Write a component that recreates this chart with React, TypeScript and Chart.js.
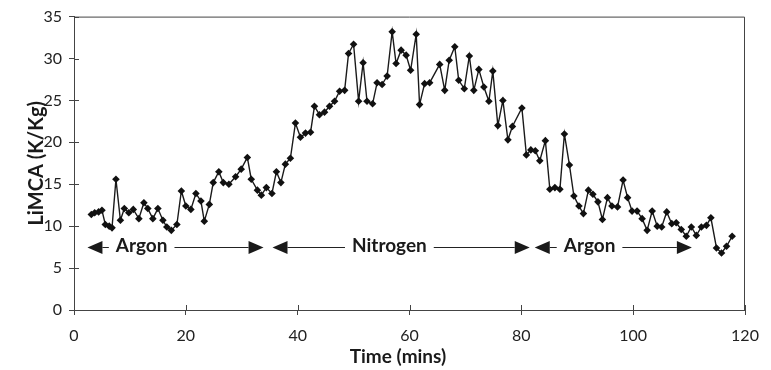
import { useEffect, useRef } from "react";
import { Chart, registerables } from "chart.js";

Chart.register(...registerables);

const timeMins = [
  3.1, 3.7, 4.4, 5.0, 5.6, 6.3, 6.8, 7.5, 8.3, 9.0, 9.8, 10.6, 11.6, 12.5, 13.2, 14.1, 15.0, 15.9, 16.6, 17.4,
  18.4, 19.2, 20.0, 20.9, 21.8, 22.7, 23.3, 24.2, 24.9, 25.9, 26.7, 27.7, 28.9, 29.9, 31.0, 31.7, 32.8, 33.5,
  34.4, 35.4, 36.2, 37.0, 37.8, 38.7, 39.6, 40.5, 41.4, 42.3, 43.0, 43.9, 44.8, 45.7, 46.6, 47.5, 48.4, 49.1,
  50.0, 50.9, 51.7, 52.4, 53.4, 54.2, 55.1, 56.0, 56.9, 57.6, 58.5, 59.4, 60.2, 61.2, 61.8, 62.7, 63.6, 65.4,
  66.3, 67.1, 68.1, 68.8, 69.8, 70.7, 71.5, 72.4, 73.3, 74.2, 74.9, 75.8, 76.7, 77.6, 78.4, 80.1, 80.9, 81.7,
  82.5, 83.3, 84.3, 85.1, 86.0, 86.9, 87.7, 88.6, 89.4, 90.3, 91.1, 92.0, 92.8, 93.7, 94.5, 95.4, 96.2, 97.2,
  98.2, 99.0, 99.8, 100.7, 101.6, 102.5, 103.4, 104.3, 105.1, 106.0, 106.9, 107.7, 108.6, 109.5, 110.4, 111.3,
  112.2, 113.1, 113.9, 114.9, 115.8, 116.7, 117.7,
];

const limcaValues = [
  11.4, 11.6, 11.7, 11.9, 10.2, 10.0, 9.8, 15.6, 10.7, 12.1, 11.6, 12.0, 10.9, 12.8, 12.1, 10.9, 12.1, 10.7, 9.9, 9.5,
  10.2, 14.2, 12.4, 12.0, 13.9, 13.0, 10.6, 12.6, 15.2, 16.5, 15.2, 15.0, 15.9, 16.8, 18.2, 15.6, 14.3, 13.7,
  14.6, 13.9, 16.5, 15.2, 17.4, 18.1, 22.3, 20.6, 21.1, 21.2, 24.3, 23.3, 23.6, 24.3, 24.9, 26.1, 26.2, 30.6,
  31.7, 24.9, 29.5, 24.9, 24.6, 27.1, 26.9, 27.9, 33.2, 29.4, 31.0, 30.4, 28.6, 32.9, 24.5, 27.0, 27.1, 29.3,
  26.2, 29.8, 31.4, 27.4, 26.4, 30.3, 26.2, 28.7, 26.6, 24.9, 28.5, 22.0, 25.0, 20.3, 21.9, 24.1, 18.5, 19.1,
  19.0, 17.8, 20.2, 14.4, 14.6, 14.4, 21.0, 17.3, 13.6, 12.4, 11.5, 14.3, 13.8, 12.9, 10.8, 13.4, 12.4, 12.3,
  15.5, 13.4, 11.8, 11.8, 10.9, 9.5, 11.8, 10.0, 9.9, 11.7, 10.3, 10.4, 9.6, 8.8, 9.9, 8.9,
  9.9, 10.1, 11.0, 7.4, 6.8, 7.6, 8.8,
];

const xTicks = [0, 20, 40, 60, 80, 100, 120];
const yTicks = [0, 5, 10, 15, 20, 25, 30, 35];

const gasLabels = ["Argon", "Nitrogen", "Argon"];
const gasStart = [2.4, 35.5, 82.4];
const gasEnd = [33.9, 81.5, 110.5];
const gasLabelAt = [12.1, 56.4, 92.2];
const arrowLevel = 7.5;

const INK = "#1a1a1a";

const overlayPlugin = {
  id: "overlay",
  afterDraw(chart: any) {
    const { ctx, chartArea } = chart;
    const { left, right, top, bottom } = chartArea;
    const xs = chart.scales.x;
    const ys = chart.scales.y;
    ctx.save();
    ctx.strokeStyle = "#444";
    ctx.lineWidth = 1;
    ctx.beginPath();
    ctx.moveTo(left + 0.5, top + 0.5);
    ctx.lineTo(right - 0.5, top + 0.5);
    ctx.lineTo(right - 0.5, bottom);
    ctx.stroke();
    ctx.beginPath();
    yTicks.forEach((v) => {
      const py = Math.round(ys.getPixelForValue(v)) + 0.5;
      ctx.moveTo(left, py);
      ctx.lineTo(left + 5, py);
    });
    xTicks.forEach((t) => {
      const px = Math.round(xs.getPixelForValue(t)) + 0.5;
      ctx.moveTo(px, bottom);
      ctx.lineTo(px, bottom - 5);
    });
    ctx.stroke();

    const ay = Math.round(ys.getPixelForValue(arrowLevel)) + 0.5;
    ctx.font = "bold 19px Lato";
    ctx.textAlign = "center";
    ctx.textBaseline = "middle";
    ctx.fillStyle = INK;
    ctx.strokeStyle = "#222";
    ctx.lineWidth = 1.2;
    const head = 15;
    const half = 6.5;
    gasLabels.forEach((label, i) => {
      const x0 = xs.getPixelForValue(gasStart[i]);
      const x1 = xs.getPixelForValue(gasEnd[i]);
      const xc = xs.getPixelForValue(gasLabelAt[i]);
      const w = ctx.measureText(label).width;
      ctx.fillText(label, xc, ay - 2);
      ctx.beginPath();
      ctx.moveTo(x0 + head, ay);
      ctx.lineTo(xc - w / 2 - 7, ay);
      ctx.moveTo(xc + w / 2 + 7, ay);
      ctx.lineTo(x1 - head, ay);
      ctx.stroke();
      ctx.beginPath();
      ctx.moveTo(x0, ay);
      ctx.lineTo(x0 + head, ay - half);
      ctx.lineTo(x0 + head, ay + half);
      ctx.closePath();
      ctx.fill();
      ctx.beginPath();
      ctx.moveTo(x1, ay);
      ctx.lineTo(x1 - head, ay - half);
      ctx.lineTo(x1 - head, ay + half);
      ctx.closePath();
      ctx.fill();
    });
    ctx.restore();
  },
};

export default function App() {
  const ref = useRef<HTMLCanvasElement | null>(null);
  useEffect(() => {
    document.body.style.margin = "0";
    if (!ref.current) return;
    const chart = new Chart(ref.current, {
      type: "line",
      data: {
        datasets: [
          {
            data: timeMins.map((t, i) => ({ x: t, y: limcaValues[i] })),
            borderColor: INK,
            borderWidth: 1.4,
            pointStyle: "rectRot",
            pointRadius: 3.8,
            pointBackgroundColor: "#111",
            pointBorderColor: "#111",
            pointBorderWidth: 0,
            tension: 0,
            fill: false,
          },
        ],
      },
      options: {
        animation: false,
        responsive: false,
        maintainAspectRatio: false,
        layout: { padding: { top: 15, right: 26, left: 0, bottom: 0 } },
        plugins: { legend: { display: false }, tooltip: { enabled: false } },
        scales: {
          x: {
            type: "linear",
            min: 0,
            max: 120,
            afterFit: (s: any) => {
              s.height = 60;
            },
            afterBuildTicks: (s: any) => {
              s.ticks = xTicks.map((v) => ({ value: v }));
            },
            grid: { drawOnChartArea: false, tickLength: 5, color: "#444" },
            border: { color: "#444", width: 1 },
            ticks: {
              padding: 11,
              color: "#222",
              font: { family: "Lato", size: 16 },
            },
            title: {
              display: true,
              text: "Time (mins)     ",
              color: "#1a1a1a",
              font: { family: "Lato", size: 19, weight: "bold" },
              padding: { top: 0, bottom: 2 },
            },
          },
          y: {
            min: 0,
            max: 35,
            afterFit: (s: any) => {
              s.width = 74;
            },
            afterBuildTicks: (s: any) => {
              s.ticks = yTicks.map((v) => ({ value: v }));
            },
            grid: { drawOnChartArea: false, tickLength: 5, color: "#444" },
            border: { color: "#444", width: 1 },
            ticks: {
              padding: 7,
              color: "#222",
              font: { family: "Lato", size: 16 },
            },
            title: {
              display: true,
              text: "LiMCA (K/Kg)",
              color: "#1a1a1a",
              font: { family: "Lato", size: 20, weight: "bold" },
              padding: { top: 25, bottom: 0 },
            },
          },
        },
      },
      plugins: [overlayPlugin],
    });
    return () => chart.destroy();
  }, []);
  return <canvas ref={ref} width={771} height={370} style={{ display: "block" }} />;
}
